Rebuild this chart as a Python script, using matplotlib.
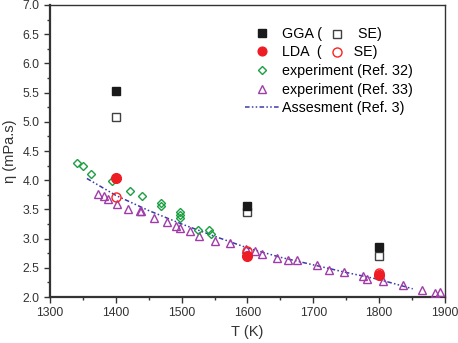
import matplotlib
matplotlib.use('Agg')
from matplotlib import pyplot as plt
from matplotlib.ticker import MultipleLocator

plt.rcParams['font.family'] = ['Liberation Sans', 'DejaVu Sans']
plt.rcParams['font.size'] = 8.5

# calculated points
calc_T = [1400, 1600, 1800]
gga = [5.52, 3.56, 2.86]
gga_se = [5.08, 3.45, 2.71]
lda = [4.03, 2.70, 2.37]
lda_se = [3.72, 2.79, 2.41]

# experiment (Ref. 32)
exp32_T = [1341, 1350, 1362, 1394, 1422, 1439, 1469, 1468, 1498, 1498, 1498, 1525, 1541, 1544]
exp32_eta = [4.29, 4.24, 4.11, 3.99, 3.82, 3.73, 3.61, 3.56, 3.46, 3.41, 3.35, 3.14, 3.14, 3.08]

# experiment (Ref. 33)
exp33_T = [1373, 1382, 1388, 1402, 1419, 1436, 1438, 1458, 1477, 1491, 1498, 1512, 1527,
           1551, 1573, 1597, 1611, 1622, 1645, 1662, 1675, 1705, 1724, 1747, 1775, 1781,
           1806, 1836, 1865, 1885, 1893]
exp33_eta = [3.76, 3.73, 3.68, 3.60, 3.51, 3.47, 3.47, 3.36, 3.28, 3.22, 3.18, 3.13, 3.04,
             2.96, 2.92, 2.82, 2.79, 2.74, 2.67, 2.63, 2.63, 2.55, 2.46, 2.43, 2.36, 2.31,
             2.27, 2.21, 2.12, 2.07, 2.09]

# assessment (Ref. 3)
ass_T = [1356, 1400, 1450, 1500, 1550, 1600, 1650, 1700, 1750, 1800, 1851]
ass_eta = [4.03, 3.74, 3.48, 3.25, 3.04, 2.84, 2.68, 2.55, 2.42, 2.30, 2.14]

fig = plt.figure(figsize=(4.58, 3.43), dpi=100)
ax = fig.add_axes([50/458, 1-297/343, 395/458, 292/343])

purple = '#a03ca8'
green = '#1aa040'
ax.plot(ass_T, ass_eta, color='#3a3aa8', lw=1.1, dashes=[3, 1.5, 1, 1.5, 1, 1.5],
        label='Assesment (Ref. 3)', zorder=2)
ax.plot(exp33_T, exp33_eta, ls='none', marker='^', ms=6, mfc='none', mec=purple, mew=1.0,
        label='experiment (Ref. 33)', zorder=3)
ax.plot(exp32_T, exp32_eta, ls='none', marker='D', ms=4.5, mfc='none', mec=green, mew=1.0,
        label='experiment (Ref. 32)', zorder=3)
ax.plot(calc_T, gga_se, ls='none', marker='s', ms=6, mfc='white', mec='#404040', mew=1.0, zorder=4)
ax.plot(calc_T, gga, ls='none', marker='s', ms=6, mfc='#1a1a1a', mec='#1a1a1a',
        label='GGA (         SE)', zorder=4)
ax.plot(calc_T, lda_se, ls='none', marker='o', ms=6.5, mfc='none', mec='#ff2020', mew=1.0, zorder=4)
ax.plot(calc_T, lda, ls='none', marker='o', ms=7, mfc='#ee1c24', mec='#ee1c24',
        label='LDA  (        SE)', zorder=4)

h, l = ax.get_legend_handles_labels()
order = [3, 4, 2, 1, 0]
leg = ax.legend([h[i] for i in order], [l[i] for i in order], loc='upper left',
                bbox_to_anchor=(0.494, 0.925), frameon=False, fontsize=10.3, handlelength=2.4,
                handletextpad=0.2, labelspacing=0.32, borderpad=0, borderaxespad=0,
                markerscale=0.9)

# open markers inside the first two legend labels
fig.canvas.draw()
inv = ax.transAxes.inverted()
for txt, mk, mc in [(leg.get_texts()[0], 's', '#404040'), (leg.get_texts()[1], 'o', '#ff2020')]:
    bb = txt.get_window_extent()
    px, py = inv.transform((bb.x0 + 55, (bb.y0 + bb.y1) / 2))
    ax.plot([px], [py], transform=ax.transAxes, marker=mk, ms=5.5 if mk == 's' else 6.5,
            mfc='white', mec=mc, mew=1.0, clip_on=False)

ax.set_xlim(1300, 1900)
ax.set_ylim(2.0, 7.0)
ax.xaxis.set_major_locator(MultipleLocator(100))
ax.xaxis.set_minor_locator(MultipleLocator(50))
ax.yaxis.set_major_locator(MultipleLocator(0.5))
ax.yaxis.set_minor_locator(MultipleLocator(0.25))
ax.tick_params(which='both', direction='out', top=False, right=False, colors='#333333',
               labelcolor='#333333', labelsize=8.8)
ax.tick_params(which='major', length=4, width=1)
ax.tick_params(which='minor', length=2.5, width=1)
for s in ['left', 'bottom']:
    ax.spines[s].set_linewidth(1.6)
for s in ['top', 'right']:
    ax.spines[s].set_linewidth(1.0)
for s in ax.spines.values():
    s.set_color('#333333')

ax.set_xlabel('T (K)', fontsize=10.5, color='#333333', labelpad=4)
ax.set_ylabel('\u03b7 (mPa.s)', fontsize=10.5, color='#333333', labelpad=4)

plt.savefig('out.png', dpi=100)
